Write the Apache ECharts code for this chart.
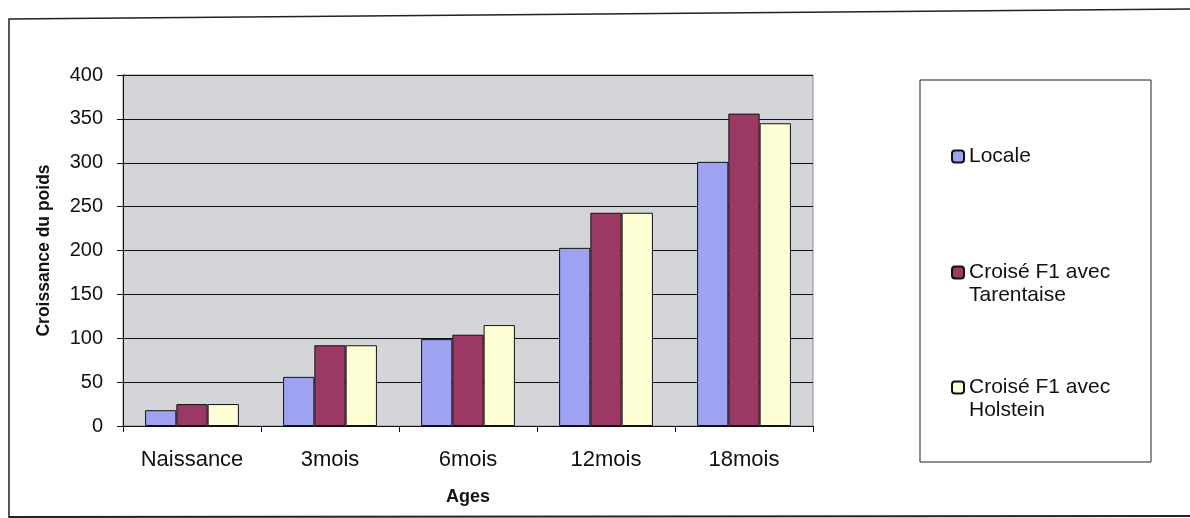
<!DOCTYPE html>
<html>
<head>
<meta charset="utf-8">
<script src="https://cdn.jsdelivr.net/npm/echarts@6/dist/echarts.min.js"></script>
<style>
  html, body { margin: 0; padding: 0; background: #ffffff; }
  #chart { width: 1190px; height: 518px; }
</style>
</head>
<body>
<div id="chart"></div>
<script>
// Weight growth by age for three cattle types
const categories = ['Naissance', '3mois', '6mois', '12mois', '18mois'];
const seriesNames = ['Locale', 'Croisé F1 avec Tarentaise', 'Croisé F1 avec Holstein'];
const locale = [18, 56, 99, 203, 301];
const tarentaise = [25, 92, 104, 243, 356];
const holstein = [25, 92, 115, 243, 345];
const yTicks = [0, 50, 100, 150, 200, 250, 300, 350, 400];

const colors = ['#9ea2f0', '#9c3864', '#ffffd6'];
const font = '"Liberation Sans", Arial, sans-serif';

const chart = echarts.init(document.getElementById('chart'));

// One legend block per series so each entry can sit at its own height.
// Long names wrap after "avec"; a blank leading line keeps the swatch
// level with the first line of the wrapped text.
function legendBlock(name, top, twoLines) {
  return {
    data: [name],
    orient: 'vertical',
    left: 951,
    top: top,
    itemWidth: 12,
    itemHeight: 12,
    itemGap: 0,
    padding: 0,
    selectedMode: false,
    formatter: function (n) {
      return twoLines ? ' \n' + n.replace(' avec ', ' avec\n') : n;
    },
    textStyle: {
      fontFamily: font,
      fontSize: 21,
      color: '#111',
      lineHeight: 23
    }
  };
}

chart.setOption({
  animation: false,
  backgroundColor: '#ffffff',
  grid: { left: 123, right: 377, top: 75, bottom: 92, show: true, backgroundColor: '#d3d5d8', borderColor: '#8a8a8a', borderWidth: 1 },
  legend: [
    legendBlock(seriesNames[0], 145, false),
    legendBlock(seriesNames[1], 238, true),
    legendBlock(seriesNames[2], 353, true)
  ],
  xAxis: {
    type: 'category',
    data: categories,
    name: 'Ages',
    nameLocation: 'middle',
    nameGap: 62,
    nameTextStyle: { fontFamily: font, fontSize: 18, fontWeight: 'bold', color: '#111' },
    axisLine: { lineStyle: { color: '#111', width: 1 } },
    axisTick: { show: true, length: 6, inside: false, lineStyle: { color: '#111' } },
    axisLabel: { fontFamily: font, fontSize: 22, color: '#111', margin: 23 },
    splitLine: { show: false }
  },
  yAxis: {
    type: 'value',
    min: 0,
    max: 400,
    interval: 50,
    name: 'Croissance du poids',
    nameLocation: 'middle',
    nameGap: 70,
    nameTextStyle: { fontFamily: font, fontSize: 17.5, fontWeight: 'bold', color: '#111' },
    axisLine: { show: true, lineStyle: { color: '#111', width: 1 } },
    axisTick: { show: true, length: 6, lineStyle: { color: '#111' } },
    axisLabel: {
      fontFamily: font, fontSize: 20, color: '#111', margin: 20,
      formatter: function (v) { return yTicks.indexOf(v) >= 0 ? String(v) : ''; }
    },
    splitLine: { show: true, lineStyle: { color: '#111', width: 1 } }
  },
  series: [locale, tarentaise, holstein].map(function (vals, i) {
    return {
      name: seriesNames[i],
      type: 'bar',
      data: vals,
      barGap: '0%',
      barCategoryGap: '32%',
      itemStyle: { color: colors[i], borderColor: '#111', borderWidth: 1 }
    };
  }),
  graphic: [
    {
      type: 'rect',
      shape: { x: 920, y: 80, width: 231, height: 382 },
      style: { fill: 'none', stroke: '#222', lineWidth: 1 },
      z: -1
    },
    {
      type: 'polyline',
      shape: { points: [[9, 530], [9, 19], [1190, 9]] },
      style: { fill: 'none', stroke: '#222', lineWidth: 1.5 }
    },
    {
      type: 'line',
      shape: { x1: 9, y1: 517, x2: 1190, y2: 516 },
      style: { stroke: '#222', lineWidth: 2 }
    }
  ]
});
</script>
</body>
</html>
